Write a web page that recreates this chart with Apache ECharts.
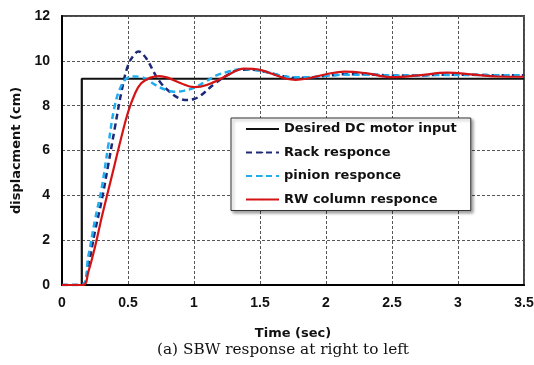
<!DOCTYPE html>
<html>
<head>
<meta charset="utf-8">
<script src="https://cdn.jsdelivr.net/npm/echarts@6/dist/echarts.min.js"></script>
<style>html,body{margin:0;padding:0;background:#fff;}#c{width:534px;height:365px;}</style>
</head>
<body>
<div id="c"></div>
<script>
// ---- data ----
var seriesNames = ['Desired DC motor input', 'Rack responce', 'pinion responce', 'RW column responce'];
var xTicks = [0, 0.5, 1, 1.5, 2, 2.5, 3, 3.5];
var yTicks = [0, 2, 4, 6, 8, 10, 12];

var desiredTime = [0, 0.15, 0.15, 3.5];
var desiredValues = [0, 0, 9.2, 9.2];

var rackTime = [0, 0.15, 0.2, 0.25, 0.3, 0.35, 0.4, 0.45, 0.5, 0.55, 0.58, 0.62, 0.66, 0.7, 0.75, 0.8, 0.88, 0.95, 1.0, 1.05, 1.15, 1.25, 1.35, 1.45, 1.55, 1.65, 1.75, 1.85, 2.0, 2.15, 2.3, 2.5, 2.7, 2.9, 3.1, 3.3, 3.5];
var rackValues = [0, 0, 0.9, 2.4, 3.75, 5.35, 7.0, 8.6, 9.8, 10.3, 10.42, 10.25, 9.9, 9.45, 9.0, 8.7, 8.35, 8.25, 8.3, 8.45, 8.95, 9.35, 9.6, 9.6, 9.5, 9.35, 9.25, 9.25, 9.33, 9.4, 9.4, 9.35, 9.35, 9.38, 9.38, 9.36, 9.36];

var pinionTime = [0, 0.15, 0.2, 0.25, 0.3, 0.35, 0.4, 0.45, 0.5, 0.55, 0.6, 0.65, 0.7, 0.78, 0.85, 0.92, 1.0, 1.08, 1.17, 1.25, 1.35, 1.45, 1.55, 1.65, 1.75, 1.85, 2.0, 2.15, 2.3, 2.5, 2.7, 2.9, 3.1, 3.3, 3.5];
var pinionValues = [0, 0, 1.3, 2.9, 4.3, 6.2, 8.0, 8.9, 9.25, 9.3, 9.28, 9.15, 8.95, 8.72, 8.62, 8.66, 8.8, 9.05, 9.35, 9.5, 9.62, 9.6, 9.5, 9.35, 9.27, 9.27, 9.33, 9.38, 9.38, 9.35, 9.35, 9.37, 9.37, 9.36, 9.36];

var rwTime = [0, 0.16, 0.2, 0.25, 0.3, 0.35, 0.4, 0.45, 0.5, 0.55, 0.6, 0.67, 0.74, 0.8, 0.9, 1.0, 1.05, 1.15, 1.25, 1.38, 1.5, 1.6, 1.7, 1.77, 1.85, 2.0, 2.14, 2.3, 2.5, 2.7, 2.92, 3.1, 3.3, 3.5];
var rwValues = [0, 0, 0.6, 1.7, 3.0, 4.2, 5.4, 6.6, 7.7, 8.5, 9.0, 9.25, 9.32, 9.25, 9.0, 8.83, 8.85, 9.05, 9.35, 9.65, 9.6, 9.4, 9.2, 9.15, 9.2, 9.4, 9.52, 9.45, 9.27, 9.35, 9.47, 9.4, 9.3, 9.29];

function pairs(t, v) { return t.map(function (x, i) { return [x, v[i]]; }); }

var chart = echarts.init(document.getElementById('c'), null, { renderer: 'canvas' });
var axisFont = 'Arial, "Liberation Sans", sans-serif';
var font = '"DejaVu Sans", Arial, sans-serif';
var option = {
  animation: false,
  backgroundColor: '#fff',
  grid: { left: 62, right: 10, top: 16, bottom: 80, outerBoundsMode: 'none',
    show: true, borderColor: '#444', borderWidth: 2, backgroundColor: 'transparent' },
  xAxis: {
    type: 'value', min: xTicks[0], max: xTicks[xTicks.length - 1], interval: 0.5,
    name: 'Time (sec)', nameLocation: 'middle', nameGap: 42,
    nameTextStyle: { fontFamily: font, fontWeight: 'bold', fontSize: 13, color: '#111' },
    axisLine: { show: true, lineStyle: { color: '#000', width: 2 } },
    axisTick: { show: false },
    axisLabel: { fontFamily: axisFont, fontWeight: 'bold', fontSize: 14, color: '#111', margin: 11,
      formatter: function (v) { return String(v); } },
    splitLine: { show: true, lineStyle: { color: '#555', width: 1, type: [3, 2] } }
  },
  yAxis: {
    type: 'value', min: yTicks[0], max: yTicks[yTicks.length - 1], interval: 2,
    name: 'displacment (cm)', nameLocation: 'middle', nameGap: 30,
    nameTextStyle: { fontFamily: font, fontWeight: 'bold', fontSize: 13, color: '#111' },
    axisLine: { show: true, lineStyle: { color: '#000', width: 2 } },
    axisTick: { show: false },
    axisLabel: { fontFamily: axisFont, fontWeight: 'bold', fontSize: 14, color: '#111', margin: 12 },
    splitLine: { show: true, lineStyle: { color: '#555', width: 1, type: [3, 2] } }
  },
  legend: {
    orient: 'vertical', left: 231, top: 118,
    padding: [3, 14, 3, 14], itemGap: 7.5, itemWidth: 33, itemHeight: 2,
    backgroundColor: '#fff', borderColor: '#333', borderWidth: 1, borderRadius: 0,
    shadowColor: 'rgba(0,0,0,0.35)', shadowBlur: 3, shadowOffsetX: 2, shadowOffsetY: 2,
    textStyle: { fontFamily: font, fontWeight: 'bold', fontSize: 13, lineHeight: 16, color: '#111', width: 172 },
    data: seriesNames
  },
  graphic: [{
    type: 'text', left: 157, top: 343,
    style: { text: '(a) SBW response at right to left', font: '15.3px "DejaVu Serif", "Liberation Serif", serif', fill: '#111' }
  }],
  series: [
    { name: seriesNames[0], type: 'line', data: pairs(desiredTime, desiredValues), showSymbol: false, symbol: 'none',
      lineStyle: { color: '#111', width: 2.2 }, itemStyle: { color: '#111' }, z: 2 },
    { name: seriesNames[1], type: 'line', data: pairs(rackTime, rackValues), smooth: 0.4, showSymbol: false, symbol: 'none',
      lineStyle: { color: '#1c2a78', width: 2.5, type: [6, 4] }, itemStyle: { color: '#1c2a78' }, z: 3 },
    { name: seriesNames[2], type: 'line', data: pairs(pinionTime, pinionValues), smooth: 0.4, showSymbol: false, symbol: 'none',
      lineStyle: { color: '#1eaef0', width: 2.5, type: [6, 4] }, itemStyle: { color: '#1eaef0' }, z: 4 },
    { name: seriesNames[3], type: 'line', data: pairs(rwTime, rwValues), smooth: 0.4, showSymbol: false, symbol: 'none',
      lineStyle: { color: '#d41414', width: 2.2 }, itemStyle: { color: '#d41414' }, z: 5 }
  ]
};
chart.setOption(option);
</script>
</body>
</html>
